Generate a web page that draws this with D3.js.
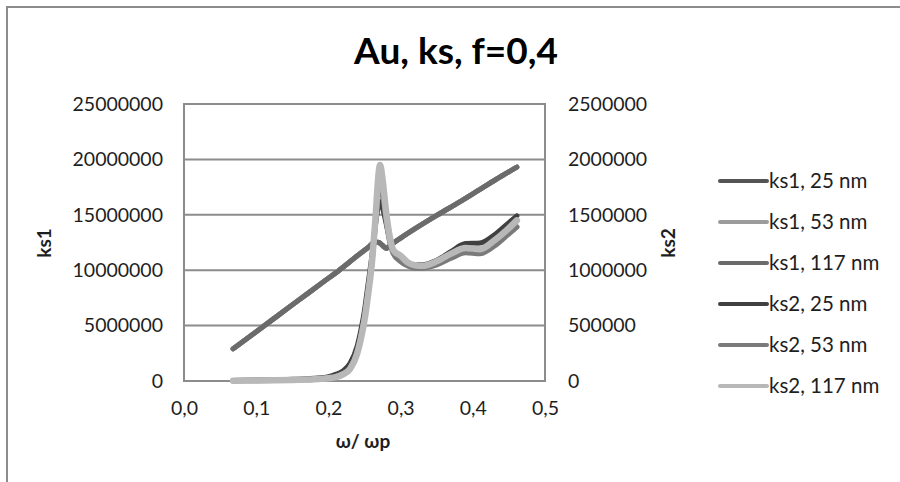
<!DOCTYPE html>
<html>
<head>
<meta charset="utf-8">
<script src="https://cdn.jsdelivr.net/npm/d3@7"></script>
<style>
  body { margin: 0; background: #fff; }
  text { font-family: Lato, "Open Sans", "Liberation Sans", sans-serif; fill: #1e1e1e; }
</style>
</head>
<body>
<svg id="chart" width="900" height="482"></svg>
<script>
// ω/ωp sample points for each family of curves
const omegaKs1 = [0.068, 0.10, 0.13, 0.16, 0.19, 0.215, 0.24, 0.255, 0.265, 0.27, 0.275, 0.28, 0.285, 0.29, 0.30, 0.32, 0.35, 0.38, 0.41, 0.44, 0.461];
const omegaKs2 = [0.068, 0.10, 0.15, 0.18, 0.20, 0.21, 0.22, 0.23, 0.24, 0.245, 0.25, 0.255, 0.26, 0.265, 0.27, 0.2715, 0.275, 0.28, 0.285, 0.29, 0.30, 0.31, 0.32, 0.33, 0.35, 0.37, 0.39, 0.41, 0.43, 0.45, 0.461];

// ks1 (left axis)
const ks1_25  = [2.9e6, 4.45e6, 5.9e6, 7.35e6, 8.8e6, 10.0e6, 11.3e6, 12.05e6, 12.55e6, 12.5e6, 12.2e6, 11.95e6, 12.15e6, 12.45e6, 12.9e6, 13.75e6, 14.95e6, 16.1e6, 17.3e6, 18.5e6, 19.3e6];
const ks1_53  = [2.9e6, 4.45e6, 5.9e6, 7.35e6, 8.8e6, 10.0e6, 11.3e6, 12.05e6, 12.55e6, 12.5e6, 12.25e6, 12.0e6, 12.2e6, 12.45e6, 12.9e6, 13.75e6, 14.95e6, 16.1e6, 17.3e6, 18.5e6, 19.3e6];
const ks1_117 = [2.9e6, 4.45e6, 5.9e6, 7.35e6, 8.8e6, 10.0e6, 11.3e6, 12.05e6, 12.55e6, 12.5e6, 12.25e6, 12.0e6, 12.2e6, 12.45e6, 12.9e6, 13.75e6, 14.95e6, 16.1e6, 17.3e6, 18.5e6, 19.3e6];

// ks2 (right axis)
const ks2_25  = [4e3, 8e3, 15e3, 25e3, 40e3, 60e3, 90e3, 160e3, 320e3, 460e3, 640e3, 880e3, 1120e3, 1400e3, 1600e3, 1620e3, 1560e3, 1420e3, 1270e3, 1170e3, 1100e3, 1060e3, 1050e3, 1050e3, 1090e3, 1170e3, 1240e3, 1245e3, 1320e3, 1430e3, 1490e3];
const ks2_53  = [3e3, 5e3, 10e3, 15e3, 25e3, 35e3, 60e3, 110e3, 270e3, 400e3, 570e3, 800e3, 1060e3, 1420e3, 1760e3, 1800e3, 1700e3, 1460e3, 1260e3, 1150e3, 1080e3, 1040e3, 1020e3, 1020e3, 1050e3, 1110e3, 1160e3, 1150e3, 1220e3, 1330e3, 1390e3];
const ks2_117 = [3e3, 5e3, 10e3, 15e3, 25e3, 35e3, 60e3, 110e3, 250e3, 380e3, 550e3, 780e3, 1050e3, 1450e3, 1900e3, 1950e3, 1820e3, 1520e3, 1300e3, 1180e3, 1130e3, 1070e3, 1045e3, 1040e3, 1080e3, 1150e3, 1200e3, 1190e3, 1270e3, 1380e3, 1450e3];

const xTicks = [0, 0.1, 0.2, 0.3, 0.4, 0.5];
const leftTicks = [0, 5e6, 10e6, 15e6, 20e6, 25e6];
const rightTicks = [0, 5e5, 1e6, 1.5e6, 2e6, 2.5e6];

const series = [
  { name: "ks1, 25 nm",  x: omegaKs1, y: ks1_25,  axis: "left",  color: "#545454", width: 5 },
  { name: "ks1, 53 nm",  x: omegaKs1, y: ks1_53,  axis: "left",  color: "#9c9c9c", width: 5 },
  { name: "ks1, 117 nm", x: omegaKs1, y: ks1_117, axis: "left",  color: "#6b6b6b", width: 5 },
  { name: "ks2, 25 nm",  x: omegaKs2, y: ks2_25,  axis: "right", color: "#404040", width: 5 },
  { name: "ks2, 53 nm",  x: omegaKs2, y: ks2_53,  axis: "right", color: "#7a7a7a", width: 5.5 },
  { name: "ks2, 117 nm", x: omegaKs2, y: ks2_117, axis: "right", color: "#b8b8b8", width: 6.5 }
];

const svg = d3.select("#chart");
const grid = "#8c8c8c";

// outer chart frame
svg.append("rect").attr("x", 7).attr("y", 7).attr("width", 1000).attr("height", 1000)
  .attr("fill", "#fff").attr("stroke", grid).attr("stroke-width", 2);

const plot = { left: 184, right: 545, top: 104, bottom: 381 };

const x = d3.scaleLinear().domain([0, 0.5]).range([plot.left, plot.right]);
const yL = d3.scaleLinear().domain([0, 25e6]).range([plot.bottom, plot.top]);
const yR = d3.scaleLinear().domain([0, 2.5e6]).range([plot.bottom, plot.top]);

// horizontal gridlines
svg.append("g").selectAll("line").data(leftTicks).join("line")
  .attr("x1", plot.left).attr("x2", plot.right)
  .attr("y1", d => yL(d)).attr("y2", d => yL(d))
  .attr("stroke", grid).attr("stroke-width", 2);

// plot frame
svg.append("rect").attr("x", plot.left).attr("y", plot.top)
  .attr("width", plot.right - plot.left).attr("height", plot.bottom - plot.top)
  .attr("fill", "none").attr("stroke", grid).attr("stroke-width", 2);

// axes (labels only; frame is drawn above)
const fmtInt = d => d3.format("d")(d);
const fmtX = d => d3.format(".1f")(d).replace(".", ",");

const axL = svg.append("g").attr("transform", `translate(${plot.left},0)`)
  .call(d3.axisLeft(yL).tickValues(leftTicks).tickFormat(fmtInt).tickSize(0).tickPadding(21));
const axR = svg.append("g").attr("transform", `translate(${plot.right},0)`)
  .call(d3.axisRight(yR).tickValues(rightTicks).tickFormat(fmtInt).tickSize(0).tickPadding(23));
const axB = svg.append("g").attr("transform", `translate(0,${plot.bottom})`)
  .call(d3.axisBottom(x).tickValues(xTicks).tickFormat(fmtX).tickSize(0).tickPadding(20));
[axL, axR, axB].forEach(a => {
  a.select(".domain").remove();
  a.selectAll("text").attr("font-size", 19.5).attr("font-family", null).style("fill", "#1e1e1e");
});

// curves
const g = svg.append("g");
series.forEach(s => {
  const yS = s.axis === "left" ? yL : yR;
  const line = d3.line().curve(d3.curveMonotoneX).x(d => x(d[0])).y(d => yS(d[1]));
  g.append("path").datum(d3.zip(s.x, s.y))
    .attr("d", line).attr("fill", "none")
    .attr("stroke", s.color).attr("stroke-width", s.width)
    .attr("stroke-linecap", "round").attr("stroke-linejoin", "round");
});

// title and axis titles
svg.append("text").attr("x", 456).attr("y", 64).attr("text-anchor", "middle")
  .attr("font-size", 37).attr("font-weight", "bold").style("fill", "#000")
  .text("Au, ks, f=0,4");
svg.append("text").attr("transform", "translate(51,243) rotate(-90)").attr("text-anchor", "middle")
  .attr("font-size", 19).attr("font-weight", "bold").text("ks1");
svg.append("text").attr("transform", "translate(675,243) rotate(-90)").attr("text-anchor", "middle")
  .attr("font-size", 19).attr("font-weight", "bold").text("ks2");
svg.append("text").attr("x", 363).attr("y", 448).attr("text-anchor", "middle")
  .attr("font-size", 19).attr("font-weight", "bold").text("ω/ ωp");

// legend
const leg = svg.append("g").selectAll("g").data(series).join("g")
  .attr("transform", (d, i) => `translate(720,${181 + i * 41})`);
leg.append("line").attr("x1", 0).attr("x2", 47).attr("y1", 0).attr("y2", 0)
  .attr("stroke", d => d.color).attr("stroke-width", 4).attr("stroke-linecap", "round");
leg.append("text").attr("x", 49).attr("y", 6.5).attr("font-size", 20.5).text(d => d.name);
</script>
</body>
</html>
